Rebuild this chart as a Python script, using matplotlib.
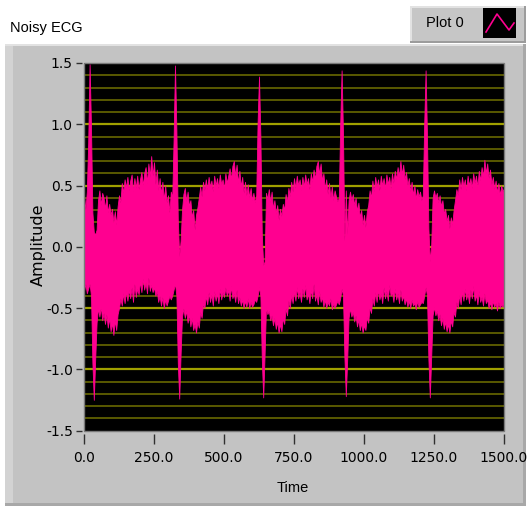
import numpy as np
import matplotlib
matplotlib.use("Agg")
import matplotlib.pyplot as plt
from matplotlib.patches import Rectangle
from matplotlib.lines import Line2D

# ---------------- values ----------------
# noisy ECG trace, kept as upper / lower envelope, one sample every 5 time units
time = np.arange(0, 1505, 5)

amp_upper = [
    # 0 .. 45 (beat 1, R ~ 20)
    0.42, 0.30, 0.45, 0.85, 1.49, 0.98, 0.28, 0.12, 0.10, 0.14,
    # 50 .. 305
    0.38, 0.46, 0.34, 0.44, 0.40, 0.31, 0.42, 0.28, 0.35, 0.26,
    0.31, 0.20, 0.29, 0.18, 0.33, 0.42, 0.36, 0.52, 0.44, 0.55,
    0.48, 0.57, 0.46, 0.54, 0.59, 0.45, 0.56, 0.48, 0.58, 0.47,
    0.55, 0.61, 0.50, 0.60, 0.65, 0.52, 0.68, 0.57, 0.74, 0.58,
    0.69, 0.51, 0.63, 0.46, 0.56, 0.43, 0.53, 0.38, 0.50, 0.36,
    0.42, 0.28,
    # 310 .. 350 (beat 2, R ~ 325)
    0.45, 0.40, 0.88, 1.48, 0.95, 0.22, -0.08, 0.05, 0.30,
    # 355 .. 610
    0.43, 0.48, 0.37, 0.45, 0.33, 0.38, 0.24, 0.30, 0.14, 0.26,
    0.32, 0.40, 0.49, 0.41, 0.53, 0.46, 0.55, 0.47, 0.57, 0.49,
    0.54, 0.45, 0.58, 0.50, 0.56, 0.48, 0.59, 0.51, 0.55, 0.47,
    0.60, 0.52, 0.58, 0.64, 0.55, 0.66, 0.70, 0.58, 0.67, 0.52,
    0.62, 0.49, 0.57, 0.44, 0.53, 0.42, 0.51, 0.40, 0.48, 0.38,
    0.44, 0.36,
    # 615 .. 645 (beat 3, R ~ 625)
    0.42, 1.02, 1.39, 0.90, 0.10, -0.15, -0.12,
    # 650 .. 905
    0.44, 0.39, 0.47, 0.36, 0.45, 0.31, 0.38, 0.27, 0.34, 0.22,
    0.31, 0.25, 0.35, 0.30, 0.43, 0.36, 0.48, 0.41, 0.53, 0.45,
    0.56, 0.48, 0.58, 0.50, 0.55, 0.46, 0.57, 0.49, 0.59, 0.51,
    0.56, 0.47, 0.60, 0.53, 0.63, 0.55, 0.66, 0.70, 0.59, 0.68,
    0.54, 0.60, 0.47, 0.55, 0.43, 0.52, 0.40, 0.49, 0.38, 0.46,
    0.41, 0.37,
    # 910 .. 945 (beat 4, R ~ 920)
    0.40, 1.00, 1.44, 0.92, 0.05, 0.46, 0.10, 0.38,
    # 950 .. 1205
    0.45, 0.38, 0.43, 0.34, 0.40, 0.29, 0.36, 0.24, 0.30, 0.18,
    0.26, 0.16, 0.29, 0.34, 0.46, 0.40, 0.54, 0.45, 0.57, 0.49,
    0.55, 0.46, 0.58, 0.50, 0.56, 0.47, 0.59, 0.51, 0.57, 0.48,
    0.60, 0.52, 0.62, 0.55, 0.65, 0.57, 0.70, 0.59, 0.67, 0.55,
    0.61, 0.50, 0.56, 0.45, 0.53, 0.42, 0.50, 0.39, 0.47, 0.41,
    0.45, 0.38,
    # 1210 .. 1245 (beat 5, R ~ 1220)
    0.42, 1.00, 1.44, 0.90, 0.15, -0.12, 0.02, 0.40,
    # 1250 .. 1500
    0.46, 0.40, 0.44, 0.36, 0.42, 0.33, 0.38, 0.27, 0.31, 0.21,
    0.26, 0.15, 0.24, 0.18, 0.30, 0.38, 0.47, 0.42, 0.55, 0.47,
    0.57, 0.49, 0.55, 0.46, 0.58, 0.50, 0.56, 0.48, 0.60, 0.52,
    0.58, 0.49, 0.62, 0.54, 0.65, 0.57, 0.71, 0.60, 0.68, 0.56,
    0.63, 0.51, 0.57, 0.47, 0.54, 0.44, 0.52, 0.42, 0.50, 0.45,
    0.48,
]

amp_lower = [
    # 0 .. 45
    -0.36, -0.30, -0.38, -0.34, -0.30, -0.40, -0.95, -1.25, -0.92, -0.62,
    # 50 .. 305
    -0.50, -0.57, -0.49, -0.60, -0.54, -0.63, -0.55, -0.66, -0.58, -0.69,
    -0.62, -0.72, -0.60, -0.68, -0.55, -0.50, -0.42, -0.48, -0.38, -0.46,
    -0.36, -0.44, -0.35, -0.42, -0.33, -0.45, -0.30, -0.41, -0.34, -0.39,
    -0.28, -0.37, -0.26, -0.35, -0.29, -0.38, -0.25, -0.36, -0.31, -0.37,
    -0.33, -0.40, -0.36, -0.45, -0.40, -0.48, -0.41, -0.50, -0.43, -0.48,
    -0.44, -0.40,
    # 310 .. 350
    -0.43, -0.40, -0.35, -0.30, -0.40, -0.95, -1.24, -0.88, -0.57,
    # 355 .. 610
    -0.50, -0.58, -0.52, -0.62, -0.55, -0.65, -0.58, -0.68, -0.63, -0.70,
    -0.61, -0.66, -0.53, -0.58, -0.46, -0.50, -0.40, -0.47, -0.37, -0.45,
    -0.39, -0.48, -0.36, -0.44, -0.38, -0.46, -0.34, -0.43, -0.37, -0.41,
    -0.33, -0.40, -0.35, -0.44, -0.32, -0.42, -0.38, -0.45, -0.35, -0.46,
    -0.41, -0.48, -0.43, -0.50, -0.44, -0.49, -0.42, -0.50, -0.45, -0.49,
    -0.47, -0.43,
    # 615 .. 645
    -0.45, -0.40, -0.33, -0.40, -0.92, -1.23, -0.88,
    # 650 .. 905
    -0.49, -0.55, -0.52, -0.60, -0.56, -0.64, -0.58, -0.67, -0.61, -0.70,
    -0.63, -0.69, -0.58, -0.63, -0.50, -0.56, -0.44, -0.50, -0.39, -0.46,
    -0.36, -0.44, -0.33, -0.42, -0.37, -0.45, -0.34, -0.41, -0.31, -0.43,
    -0.38, -0.46, -0.35, -0.42, -0.30, -0.44, -0.39, -0.47, -0.36, -0.45,
    -0.41, -0.49, -0.43, -0.50, -0.45, -0.48, -0.42, -0.51, -0.46, -0.50,
    -0.47, -0.44,
    # 910 .. 945
    -0.47, -0.42, -0.34, -0.40, -0.90, -1.22, -0.92, -0.58,
    # 950 .. 1205
    -0.50, -0.57, -0.53, -0.61, -0.56, -0.65, -0.59, -0.68, -0.62, -0.70,
    -0.64, -0.68, -0.57, -0.62, -0.49, -0.54, -0.42, -0.48, -0.37, -0.45,
    -0.35, -0.43, -0.38, -0.46, -0.33, -0.42, -0.36, -0.44, -0.31, -0.40,
    -0.37, -0.45, -0.34, -0.43, -0.38, -0.46, -0.35, -0.44, -0.40, -0.47,
    -0.42, -0.49, -0.44, -0.50, -0.43, -0.48, -0.46, -0.51, -0.44, -0.49,
    -0.47, -0.45,
    # 1210 .. 1245
    -0.46, -0.40, -0.33, -0.40, -0.92, -1.23, -0.90, -0.56,
    # 1250 .. 1500
    -0.49, -0.56, -0.52, -0.60, -0.55, -0.64, -0.58, -0.67, -0.61, -0.69,
    -0.63, -0.70, -0.60, -0.65, -0.53, -0.57, -0.45, -0.50, -0.39, -0.47,
    -0.36, -0.44, -0.34, -0.43, -0.38, -0.46, -0.35, -0.42, -0.32, -0.44,
    -0.39, -0.47, -0.36, -0.45, -0.41, -0.48, -0.38, -0.46, -0.43, -0.50,
    -0.45, -0.51, -0.44, -0.49, -0.46, -0.52, -0.45, -0.50, -0.47, -0.49,
    -0.46,
]

y_ticks = [-1.5, -1.0, -0.5, 0.0, 0.5, 1.0, 1.5]
x_ticks = [0.0, 250.0, 500.0, 750.0, 1000.0, 1250.0, 1500.0]

# ---------------- look ----------------
PINK = "#ff0090"
PANEL = "#c3c3c3"
UI_FONT = "Liberation Sans"
W, H = 531, 508


def fig_box(x0, y0, x1, y1):
    # pixel box (top-left origin) -> figure fraction rectangle args
    return (x0 / W, 1 - y1 / H), (x1 - x0) / W, (y1 - y0) / H


fig = plt.figure(figsize=(W / 100, H / 100), dpi=100, facecolor="white")

# panel behind the graph
for box, col in [((5, 44, 526, 506), PANEL),
                 ((5, 44, 13, 506), "#d3d3d3"),
                 ((5, 44, 526, 46), "#e2e2e2"),
                 ((5, 503, 526, 506), "#a8a8a8"),
                 ((523, 44, 526, 506), "#a8a8a8")]:
    xy, w, h = fig_box(*box)
    fig.add_artist(Rectangle(xy, w, h, transform=fig.transFigure, fc=col, ec="none", zorder=0))

# plot legend box
for box, col in [((410, 6, 526, 43), "#9c9c9c"),
                 ((410, 6, 524, 41), "#e2e2e2"),
                 ((412, 8, 524, 41), "#c6c6c6"),
                 ((483, 8, 516, 38), "black")]:
    xy, w, h = fig_box(*box)
    fig.add_artist(Rectangle(xy, w, h, transform=fig.transFigure, fc=col, ec="none", zorder=0))
sx = np.array([486, 497, 509, 514]) / W
sy = 1 - np.array([32, 14, 30, 23]) / H
fig.add_artist(Line2D(sx, sy, transform=fig.transFigure, color=PINK, lw=1.2))
fig.text(426 / W, 1 - 23 / H, "Plot 0", family=UI_FONT, fontsize=10.5, ha="left", va="center")

fig.text(10 / W, 1 - 28 / H, "Noisy ECG", family=UI_FONT, fontsize=10.5, ha="left", va="center")

# graph area
ax = fig.add_axes([84 / W, 1 - 430.5 / H, 420 / W, 367.5 / H])
ax.set_facecolor("black")

for v in np.arange(-14, 15) / 10:
    major = abs(v * 2 - round(v * 2)) < 1e-9
    ax.axhline(v, color="#a0a000" if major else "#606000", lw=1.6 if major else 1.3, zorder=1)

ax.fill_between(time, amp_lower, amp_upper, color=PINK, lw=0.6, zorder=2)

ax.set_xlim(0, 1500)
ax.set_ylim(-1.5, 1.5)
ax.set_xticks(x_ticks)
ax.set_yticks(y_ticks)
ax.set_xticklabels(["%.1f" % v for v in x_ticks], family=UI_FONT, fontsize=10.5)
ax.set_yticklabels(["%.1f" % v for v in y_ticks], family=UI_FONT, fontsize=10.5)

for side in ax.spines:
    ax.spines[side].set_visible(False)
ax.spines["left"].set_position(("outward", 1.5))
ax.spines["bottom"].set_position(("outward", 2.5))
ax.tick_params(axis="y", length=4.5, width=1, color="#303030", pad=2)
ax.tick_params(axis="x", length=7.5, width=1, color="#303030", pad=5)
ax.add_patch(Rectangle((0, 0), 1, 1, transform=ax.transAxes, fill=False,
                       ec="#7a7a7a", lw=1, clip_on=False, zorder=5))

fig.text(293 / W, 1 - 488 / H, "Time", family=UI_FONT, fontsize=10.5, ha="center", va="center")
fig.text(38 / W, 1 - 245 / H, "Amplitude", family="DejaVu Sans", fontsize=11.5,
         rotation=90, ha="center", va="center")

fig.savefig("out.png", dpi=100, facecolor="white")
